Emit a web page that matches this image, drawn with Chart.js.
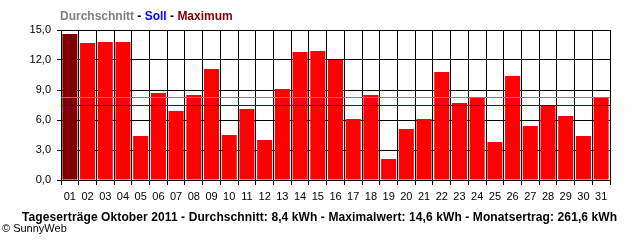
<!DOCTYPE html>
<html>
<head>
<meta charset="utf-8">
<script src="https://cdn.jsdelivr.net/npm/chart.js@4"></script>
<style>
  html, body { margin: 0; padding: 0; background: #fff; }
  #wrap { position: relative; width: 640px; height: 240px; font-family: "Liberation Sans", Arial, sans-serif; }
  #chart { position: absolute; left: 0; top: 0; }
  .txt { position: absolute; white-space: nowrap; line-height: 12px; }
  #legend { left: 60px; top: 10px; font-size: 12px; font-weight: bold; }
  #footer { left: 22px; top: 211px; font-size: 12px; font-weight: bold; letter-spacing: 0.1px; }
  #copy { left: 2px; top: 222px; font-size: 11px; }
</style>
</head>
<body>
<div id="wrap">
  <canvas id="chart" width="640" height="240"></canvas>
  <div id="legend" class="txt"><span style="color:#808080">Durchschnitt</span> - <span style="color:#0000ff">Soll</span> - <span style="color:#800000">Maximum</span></div>
  <div id="footer" class="txt">Tageserträge Oktober 2011 - Durchschnitt: 8,4 kWh - Maximalwert: 14,6 kWh - Monatsertrag: 261,6 kWh</div>
  <div id="copy" class="txt">© SunnyWeb</div>
</div>
<script>
// daily yields in kWh, October 2011
const days = ["01","02","03","04","05","06","07","08","09","10","11","12","13","14","15","16",
              "17","18","19","20","21","22","23","24","25","26","27","28","29","30","31"];
const yields = [14.6, 13.7, 13.8, 13.8, 4.4, 8.7, 6.9, 8.5, 11.1, 4.5, 7.1, 4.0, 9.1, 12.8, 12.9, 12.0,
                6.1, 8.5, 2.1, 5.1, 6.1, 10.8, 7.7, 8.3, 3.8, 10.4, 5.4, 7.5, 6.4, 4.4, 8.3];
const avgLine = 8.3;   // Durchschnitt
const sollLine = 7.5;  // Soll
const yMax = 15;
const yStep = 3;

const maxVal = Math.max(...yields);
const barColors = yields.map(v => v === maxVal ? "#800000" : "#ff0000");

// horizontal reference lines drawn on top of the bars
const refLines = {
    id: "refLines",
    afterDatasetsDraw(chart) {
        const ctx = chart.ctx;
        const area = chart.chartArea;
        const y = chart.scales.y;
        [[avgLine, "#808080"], [sollLine, "#0000ff"]].forEach(([v, c]) => {
            const py = Math.round(y.getPixelForValue(v)) + 0.5;
            ctx.save();
            ctx.strokeStyle = c;
            ctx.lineWidth = 1;
            ctx.beginPath();
            ctx.moveTo(area.left, py);
            ctx.lineTo(area.right, py);
            ctx.stroke();
            ctx.restore();
        });
    }
};

new Chart(document.getElementById("chart"), {
    type: "bar",
    data: {
        labels: days,
        datasets: [{
            data: yields,
            backgroundColor: barColors,
            borderWidth: 0,
            barPercentage: 0.85,
            categoryPercentage: 1.0
        }]
    },
    options: {
        responsive: false,
        animation: false,
        layout: { padding: { top: 30, right: 30, left: 0, bottom: 0 } },
        plugins: { legend: { display: false }, tooltip: { enabled: false } },
        scales: {
            x: {
                afterFit(s) { s.height = 60; },
                grid: { color: "#000", lineWidth: 1, tickLength: 5, offset: true },
                border: { color: "#000" },
                ticks: { color: "#000", font: { family: "Liberation Sans", size: 11 }, padding: 5, maxRotation: 0, autoSkip: false }
            },
            y: {
                min: 0,
                max: yMax,
                afterFit(s) { s.width = 61; },
                grid: { color: "#000", lineWidth: 1, tickLength: 4 },
                border: { color: "#000" },
                ticks: {
                    stepSize: yStep,
                    color: "#000",
                    padding: 6,
                    font: { family: "Liberation Sans", size: 11 },
                    callback: v => v.toFixed(1).replace(".", ",")
                }
            }
        }
    },
    plugins: [refLines]
});
</script>
</body>
</html>
